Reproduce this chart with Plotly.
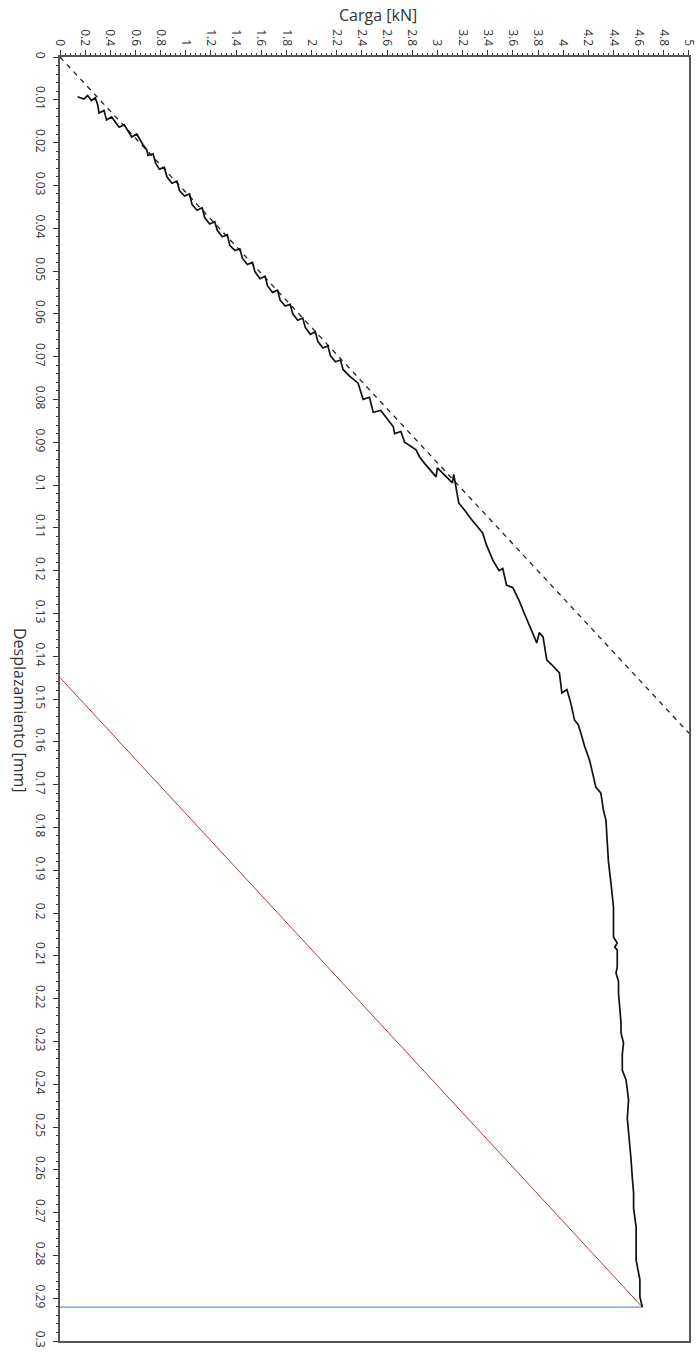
import plotly.graph_objects as go

# Black measured curve: displacement [mm] and load [kN]
curve_disp = [0.0093, 0.0098, 0.0090, 0.0102, 0.0095, 0.0112, 0.0131, 0.0125, 0.0147, 0.0140,
              0.0164, 0.0158, 0.0187, 0.0180, 0.0205, 0.0217, 0.0230, 0.0226, 0.0248, 0.0262,
              0.0258, 0.0280, 0.0295, 0.0290, 0.0312, 0.0325, 0.0320, 0.0345, 0.0358, 0.0352,
              0.0375, 0.0390, 0.0385, 0.0405, 0.0420, 0.0415, 0.0440, 0.0452, 0.0448, 0.0470,
              0.0485, 0.0480, 0.0502, 0.0518, 0.0512, 0.0535, 0.0550, 0.0545, 0.0568, 0.0582,
              0.0578, 0.0600, 0.0615, 0.0610, 0.0632, 0.0648, 0.0642, 0.0665, 0.0680, 0.0675,
              0.0698, 0.0712, 0.0708, 0.0730, 0.0745, 0.0762, 0.0800, 0.0795, 0.0830, 0.0826,
              0.0864, 0.0880, 0.0875, 0.0900, 0.0918, 0.0935, 0.0950, 0.0981, 0.0960, 0.0995,
              0.0975, 0.1042, 0.1060, 0.1080, 0.1112, 0.1140, 0.1175, 0.1200, 0.1195, 0.1234,
              0.1240, 0.1270, 0.1299, 0.1320, 0.1369, 0.1345, 0.1355, 0.1409, 0.1420, 0.1439,
              0.1486, 0.1478, 0.1509, 0.1549, 0.1560, 0.1579, 0.1610, 0.1643, 0.1670, 0.1706,
              0.1720, 0.1760, 0.1783, 0.1836, 0.1880, 0.1930, 0.1986, 0.2020, 0.2056, 0.2070,
              0.2080, 0.2086, 0.2126, 0.2140, 0.2160, 0.2187, 0.2220, 0.2257, 0.2280, 0.2304,
              0.2330, 0.2367, 0.2390, 0.2437, 0.2480, 0.2507, 0.2540, 0.2577, 0.2620, 0.2654,
              0.2690, 0.2734, 0.2770, 0.2811, 0.2857, 0.2897, 0.2921]
curve_load = [0.14, 0.19, 0.22, 0.25, 0.28, 0.30, 0.31, 0.35, 0.37, 0.41,
              0.47, 0.51, 0.57, 0.61, 0.66, 0.69, 0.70, 0.74, 0.76, 0.79,
              0.83, 0.85, 0.89, 0.93, 0.95, 0.99, 1.03, 1.05, 1.09, 1.13,
              1.15, 1.19, 1.23, 1.25, 1.29, 1.33, 1.35, 1.39, 1.43, 1.45,
              1.49, 1.53, 1.55, 1.59, 1.63, 1.65, 1.69, 1.73, 1.75, 1.79,
              1.83, 1.85, 1.89, 1.93, 1.95, 1.99, 2.03, 2.05, 2.09, 2.13,
              2.15, 2.19, 2.23, 2.25, 2.30, 2.37, 2.41, 2.46, 2.49, 2.55,
              2.65, 2.66, 2.71, 2.74, 2.83, 2.86, 2.90, 2.99, 3.00, 3.12,
              3.13, 3.17, 3.22, 3.27, 3.36, 3.39, 3.44, 3.49, 3.52, 3.55,
              3.60, 3.65, 3.69, 3.72, 3.79, 3.81, 3.84, 3.87, 3.91, 3.97,
              3.99, 4.03, 4.06, 4.09, 4.12, 4.14, 4.17, 4.21, 4.23, 4.26,
              4.30, 4.32, 4.34, 4.35, 4.36, 4.38, 4.40, 4.40, 4.40, 4.43,
              4.41, 4.43, 4.43, 4.42, 4.44, 4.44, 4.45, 4.46, 4.46, 4.48,
              4.47, 4.47, 4.50, 4.52, 4.51, 4.52, 4.53, 4.54, 4.55, 4.56,
              4.56, 4.58, 4.58, 4.58, 4.61, 4.61, 4.63]

# Dashed elastic line
elastic_load = [0.0, 5.0]
elastic_disp = [0.0, 0.158]

# Red parallel (unloading) line
offset_load = [0.0, 4.63]
offset_disp = [0.145, 0.2921]

# Blue horizontal line at final displacement
final_load = [0.0, 4.63]
final_disp = [0.2921, 0.2921]

fig = go.Figure()
fig.add_trace(go.Scatter(x=elastic_load, y=elastic_disp, mode="lines",
                         line=dict(color="#222222", width=1.3, dash="5px,5px"), showlegend=False))
fig.add_trace(go.Scatter(x=offset_load, y=offset_disp, mode="lines",
                         line=dict(color="#b03a3a", width=1), showlegend=False))
fig.add_trace(go.Scatter(x=final_load, y=final_disp, mode="lines",
                         line=dict(color="#6a9cc8", width=1.2), showlegend=False))
fig.add_trace(go.Scatter(x=curve_load, y=curve_disp, mode="lines",
                         line=dict(color="#111111", width=1.7), showlegend=False))

tickfont = dict(family="Open Sans", size=12, color="#333333")

W, H = 699, 1353
L, R, T, B = 60, 10, 57, 12

fig.update_layout(
    width=W, height=H,
    margin=dict(l=L, r=R, t=T, b=B, autoexpand=False),
    paper_bgcolor="white", plot_bgcolor="white",
    font=dict(family="Open Sans", color="#333333"),
    xaxis=dict(side="top", range=[0, 5.0004], dtick=0.2, tick0=0, tickangle=90,
               ticks="outside", ticklen=5, tickwidth=1, tickcolor="#333333",
               minor=dict(dtick=0.04, ticks="outside", ticklen=2, tickcolor="#333333"),
               showgrid=False, zeroline=False, showline=True, linecolor="#555555",
               linewidth=1.5, mirror=True, tickfont=tickfont, automargin=False,
               ticklabeloverflow="allow"),
    yaxis=dict(range=[0.3, 0], dtick=0.01, tick0=0, tickangle=90,
               ticks="outside", ticklen=5, tickwidth=1, tickcolor="#333333",
               minor=dict(dtick=0.002, ticks="outside", ticklen=2, tickcolor="#333333"),
               showgrid=False, zeroline=False, showline=True, linecolor="#555555",
               linewidth=1.5, mirror=True, tickfont=tickfont, automargin=False,
               ticklabelstandoff=3, ticklabeloverflow="allow"),
)

pw, ph = W - L - R, H - T - B
def px(xp):
    return (xp - L) / pw
def py(yp):
    return (H - B - yp) / ph

fig.add_annotation(text="Carga [kN]", x=px(378), y=py(15), xref="paper", yref="paper",
                   xanchor="center", yanchor="middle",
                   showarrow=False, font=dict(family="Open Sans", size=16, color="#333333"))
fig.add_annotation(text="Desplazamiento [mm]", x=px(20), y=py(710), xref="paper", yref="paper",
                   xanchor="center", yanchor="middle",
                   textangle=90, showarrow=False,
                   font=dict(family="Open Sans", size=16, color="#333333"))

fig.write_html("out.html", config={"displayModeBar": False},
               post_script="document.body.style.margin='0';document.body.style.overflow='hidden';")
